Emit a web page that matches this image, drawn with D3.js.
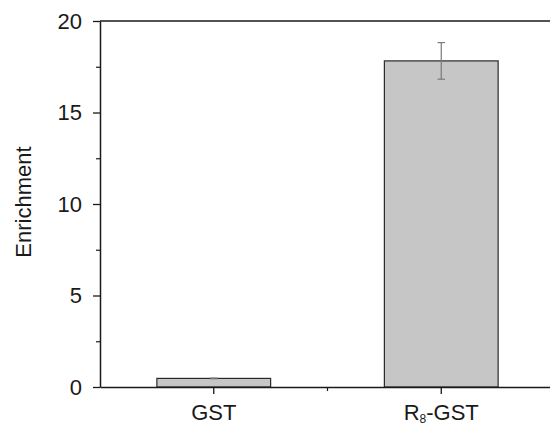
<!DOCTYPE html>
<html>
<head>
<meta charset="utf-8">
<script src="https://cdn.jsdelivr.net/npm/d3@7"></script>
<style>
  html, body { margin: 0; padding: 0; background: #fff; }
  svg { display: block; font-family: "Liberation Sans", Arial, sans-serif; }
</style>
</head>
<body>
<svg id="chart" width="550" height="426"></svg>
<script>
const categories = ["GST", "R8-GST"];
const values = [0.47, 17.82];
const errors = [0.02, 1.0];
const yTicks = [0, 5, 10, 15, 20];
const yMinorTicks = [2.5, 7.5, 12.5, 17.5];
const yLabel = "Enrichment";

(function () {
const svg = d3.select("#chart");
const mLeft = 100, mRight = 555, mTop = 21, mBottom = 387;

const x = d3.scaleBand().domain(categories).range([mLeft, mRight])
  .paddingInner(0.5).paddingOuter(0.25);
const y = d3.scaleLinear().domain([0, 20]).range([mBottom, mTop]);

const axisColor = "#1a1a1a";

// bars
svg.append("g").selectAll("rect").data(categories).join("rect")
  .attr("x", d => x(d))
  .attr("width", x.bandwidth())
  .attr("y", (d, i) => y(values[i]))
  .attr("height", (d, i) => y(0) - y(values[i]))
  .attr("fill", "#c6c6c6")
  .attr("stroke", "#2a2a2a")
  .attr("stroke-width", 1.2);

// error bars
const eb = svg.append("g").attr("stroke", "#7a7a7a").attr("stroke-width", 1.2);
categories.forEach((c, i) => {
  const cx = x(c) + x.bandwidth() / 2;
  const y1 = y(values[i] + errors[i]), y0 = y(values[i] - errors[i]);
  eb.append("line").attr("x1", cx).attr("x2", cx).attr("y1", y1).attr("y2", y0);
  eb.append("line").attr("x1", cx - 3.7).attr("x2", cx + 3.7).attr("y1", y1).attr("y2", y1);
  eb.append("line").attr("x1", cx - 3.7).attr("x2", cx + 3.7).attr("y1", y0).attr("y2", y0);
});

// top frame line
svg.append("line").attr("x1", mLeft).attr("x2", mRight).attr("y1", mTop).attr("y2", mTop)
  .attr("stroke", axisColor).attr("stroke-width", 1.5);

// y axis
const yAxis = d3.axisLeft(y).tickValues(yTicks).tickSize(7).tickPadding(11).tickSizeOuter(0);
const gy = svg.append("g").attr("transform", `translate(${mLeft},0)`).call(yAxis);
gy.select(".domain").attr("stroke", axisColor).attr("stroke-width", 1.5);
gy.selectAll(".tick line").attr("stroke", axisColor).attr("stroke-width", 1.3);
gy.selectAll(".tick text").attr("font-size", 22).attr("fill", "#1a1a1a")
  .attr("font-family", "Liberation Sans, Arial, sans-serif");
const yMinor = d3.axisLeft(y).tickValues(yMinorTicks).tickSize(4).tickFormat("");
const gym = svg.append("g").attr("transform", `translate(${mLeft},0)`).call(yMinor);
gym.select(".domain").remove();
gym.selectAll(".tick line").attr("stroke", axisColor).attr("stroke-width", 1.2);

// x axis
const xAxis = d3.axisBottom(x).tickSize(7).tickFormat("").tickSizeOuter(0);
const gx = svg.append("g").attr("transform", `translate(0,${mBottom})`).call(xAxis);
gx.select(".domain").attr("stroke", axisColor).attr("stroke-width", 1.5);
gx.selectAll(".tick line").attr("stroke", axisColor).attr("stroke-width", 1.3);
// minor x ticks between categories
const step = x.step();
const xMinorPos = [mLeft + step];
svg.append("g").selectAll("line").data(xMinorPos).join("line")
  .attr("x1", d => d).attr("x2", d => d).attr("y1", mBottom).attr("y2", mBottom + 4)
  .attr("stroke", axisColor).attr("stroke-width", 1.2);

// x labels
categories.forEach(c => {
  const cx = x(c) + x.bandwidth() / 2;
  const t = svg.append("text").attr("x", cx).attr("y", 420)
    .attr("text-anchor", "middle").attr("font-size", 22).attr("fill", "#1a1a1a");
  const m = c.match(/^R(\d+)(-.*)$/);
  if (m) {
    t.append("tspan").text("R");
    t.append("tspan").attr("font-size", 12).attr("dy", 3).text(m[1]);
    t.append("tspan").attr("dy", -3).text(m[2]);
  } else {
    t.text(c);
  }
});

// y label
svg.append("text")
  .attr("transform", `translate(31,${(145 + 259) / 2}) rotate(-90)`)
  .attr("text-anchor", "middle").attr("font-size", 22).attr("fill", "#1a1a1a")
  .text(yLabel);
})();
</script>
</body>
</html>
